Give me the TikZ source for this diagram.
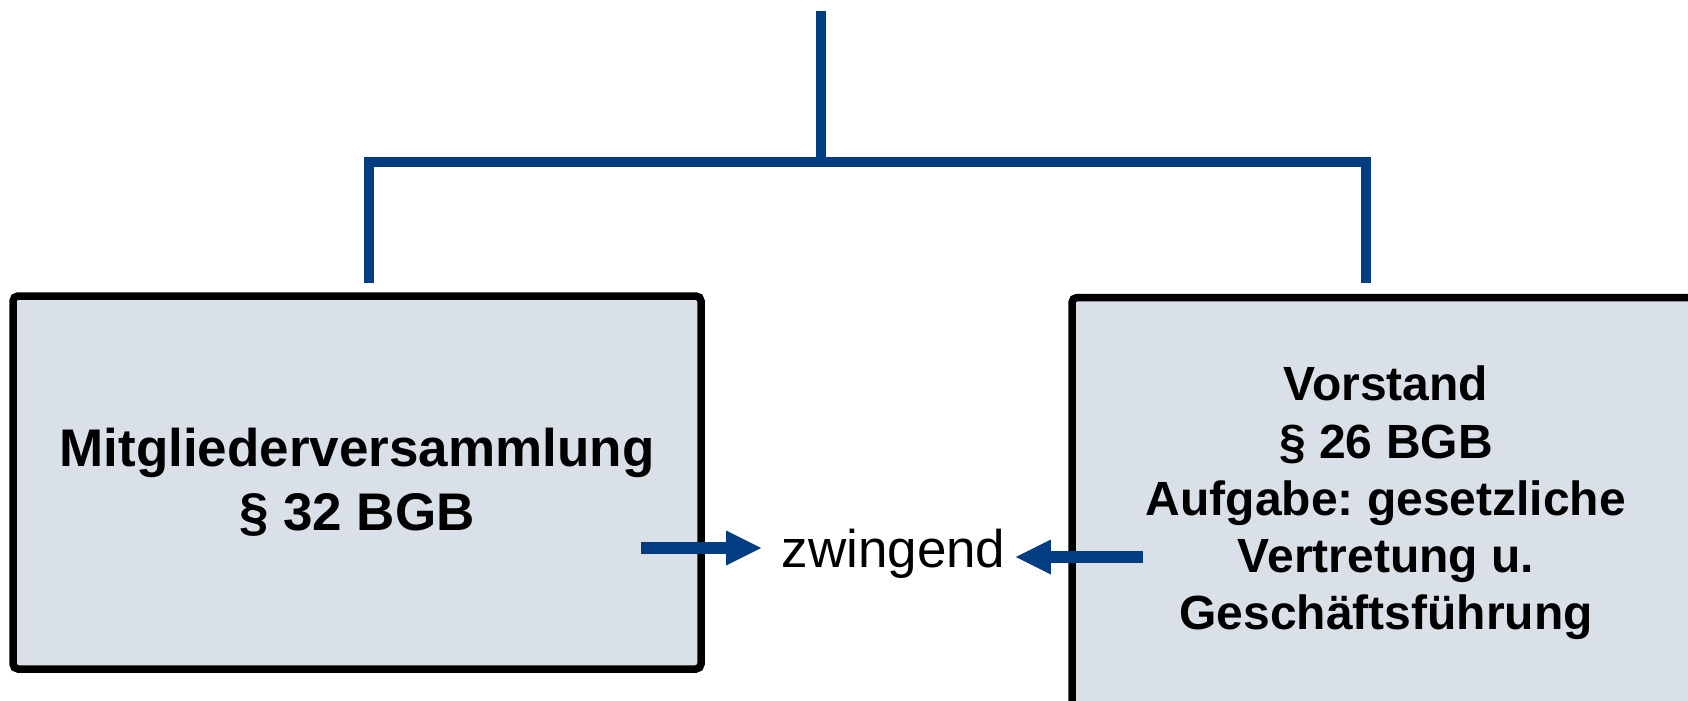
\documentclass[tikz,border=0pt]{standalone}
\usepackage{fontspec}
\setmainfont{Liberation Sans}
\usetikzlibrary{arrows.meta}
\definecolor{linkblue}{HTML}{023D82}
\definecolor{boxfill}{HTML}{DAE0E7}
\frenchspacing
\begin{document}
\begin{tikzpicture}[x=0.5pt,y=-0.5pt,
  organ/.style={draw=black, line width=3.75pt, fill=boxfill, rounded corners=2.5pt,
                align=center, inner sep=0pt},
  bracket/.style={draw=linkblue, line width=5pt},
  arr/.style={draw=linkblue, line width=5.75pt,
              -{Triangle[length=17.5pt,width=17.5pt,line width=0pt]}}]
\useasboundingbox (0,0) rectangle (1688,701);

% the two organs
\node[organ, minimum width=344pt, minimum height=186.5pt,
      font=\bfseries\fontsize{26.5pt}{32pt}\selectfont] (mv) at (357,482.5)
  {Mitgliederversammlung\\§ 32 BGB};
\node[organ, minimum width=314pt, minimum height=205.5pt,
      font=\bfseries\fontsize{24pt}{28.6pt}\selectfont] (vs) at (1386,503)
  {Vorstand\\§ 26 BGB\\Aufgabe: gesetzliche\\Vertretung u.\\Geschäftsführung};

% bracket from the top
\coordinate (root) at (821,11);
\coordinate (fork) at (821,162);
\coordinate (dropL) at (369,283);
\coordinate (dropR) at (1366,283);
\draw[bracket] (dropL) |- (fork) -| (dropR);
\draw[bracket] (root) -- (fork);

% mandatory relation
\node[font=\fontsize{26.5pt}{32pt}\selectfont, inner sep=0pt, anchor=base] (zw) at (893.5,567) {zwingend};
\coordinate (mvout) at (641,548);
\coordinate (vsout) at (1143,557);
\draw[arr, shorten >=10pt] (mvout) -- (zw.west |- mvout);
\draw[arr, shorten >=5pt] (vsout) -- (zw.east |- vsout);
\end{tikzpicture}
\end{document}
